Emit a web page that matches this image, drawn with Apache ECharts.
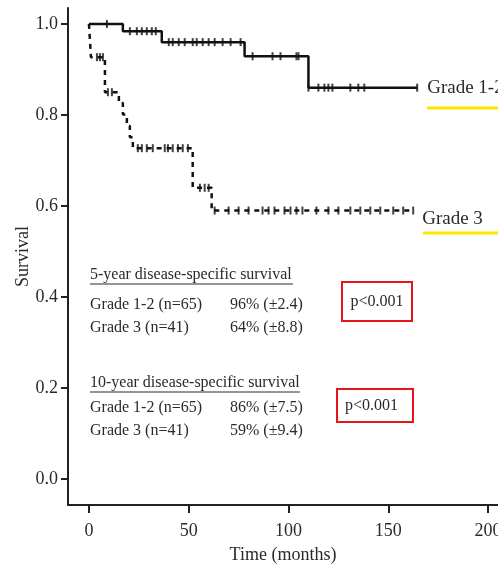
<!DOCTYPE html>
<html>
<head>
<meta charset="utf-8">
<script src="https://cdn.jsdelivr.net/npm/echarts@6/dist/echarts.min.js"></script>
<style>
  html, body { margin: 0; padding: 0; background: #fff; }
  #chart { width: 498px; height: 569px; }
</style>
</head>
<body>
<div id="chart"></div>
<script>
// Kaplan-Meier step points: [months, survival]
const grade12Steps = [[0, 1.0], [17, 0.984], [36.5, 0.96], [78, 0.929], [110, 0.86], [164.5, 0.86]];
const grade3Steps = [[0, 1.0], [1, 0.927], [8, 0.85], [15, 0.826], [17, 0.801], [19, 0.776],
                     [20.5, 0.751], [22, 0.727], [52, 0.64], [61.5, 0.59], [163, 0.59]];

// Censored observations: [months, survival]
const grade12Censored = [
  [9, 1.0],
  [20.5, 0.984], [24, 0.984], [26.5, 0.984], [29, 0.984], [31.5, 0.984], [33.5, 0.984],
  [40, 0.96], [42, 0.96], [45, 0.96], [48, 0.96], [52, 0.96], [54, 0.96], [57, 0.96],
  [60, 0.96], [63, 0.96], [67, 0.96], [71, 0.96], [76, 0.96],
  [82, 0.929], [92, 0.929], [96, 0.929], [104, 0.929], [105, 0.929],
  [110, 0.86], [115, 0.86], [118, 0.86], [120, 0.86], [122, 0.86], [131, 0.86], [135, 0.86],
  [138, 0.86], [164.5, 0.86]
];
const grade3Censored = [
  [4, 0.927], [5.5, 0.927], [7, 0.927],
  [9.5, 0.85], [11.5, 0.85],
  [24.5, 0.727], [26.5, 0.727], [29, 0.727], [32, 0.727], [38, 0.727], [39.6, 0.727],
  [42, 0.727], [44.6, 0.727], [47, 0.727], [49.6, 0.727],
  [55.6, 0.64], [58, 0.64], [60, 0.64],
  [63, 0.59], [70, 0.59], [75, 0.59], [80, 0.59], [87, 0.59], [90, 0.59], [93, 0.59],
  [98, 0.59], [101, 0.59], [104, 0.59], [107, 0.59], [114, 0.59], [120, 0.59], [125, 0.59],
  [131, 0.59], [136, 0.59], [141, 0.59], [146, 0.59], [152.5, 0.59], [157.5, 0.59], [162.5, 0.59]
];

const seriesNames = ['Grade 1-2', 'Grade 3'];
const xTicks = [0, 50, 100, 150, 200];
const yTicks = [0.0, 0.2, 0.4, 0.6, 0.8, 1.0];

// Summary table rows
const fiveYearHeader = '5-year disease-specific survival';
const tenYearHeader = '10-year disease-specific survival';
const fiveYearRows = [['Grade 1-2 (n=65)', '96% (\u00b12.4)'], ['Grade 3 (n=41)', '64% (\u00b18.8)']];
const tenYearRows = [['Grade 1-2 (n=65)', '86% (\u00b17.5)'], ['Grade 3 (n=41)', '59% (\u00b19.4)']];
const pValueText = 'p<0.001';

const SERIF = '"Liberation Serif", "DejaVu Serif", serif';
const INK = '#2a2a2a';

const chart = echarts.init(document.getElementById('chart'), null, { renderer: 'canvas' });

function txt(x, y, text, align) {
  return {
    type: 'text', x: x, y: y, silent: true,
    style: { text: text, font: '16px ' + SERIF, fill: INK, verticalAlign: 'middle', align: align || 'left' }
  };
}
function hline(x1, x2, y, color, w) {
  return { type: 'line', silent: true, shape: { x1: x1, y1: y, x2: x2, y2: y },
           style: { stroke: color, lineWidth: w } };
}

const graphics = [
  txt(90, 275, fiveYearHeader), hline(90, 293, 284, INK, 1),
  txt(90, 305, fiveYearRows[0][0]), txt(230, 305, fiveYearRows[0][1]),
  txt(90, 328, fiveYearRows[1][0]), txt(230, 328, fiveYearRows[1][1]),
  txt(90, 383, tenYearHeader), hline(90, 300, 392, INK, 1),
  txt(90, 408, tenYearRows[0][0]), txt(230, 408, tenYearRows[0][1]),
  txt(90, 431, tenYearRows[1][0]), txt(230, 431, tenYearRows[1][1]),
  { type: 'rect', silent: true, shape: { x: 342, y: 282, width: 70, height: 39 },
    style: { fill: 'none', stroke: '#e8141c', lineWidth: 2 } },
  txt(377, 302, pValueText, 'center'),
  { type: 'rect', silent: true, shape: { x: 337, y: 389, width: 76, height: 33 },
    style: { fill: 'none', stroke: '#e8141c', lineWidth: 2 } },
  txt(345, 406, pValueText),
  hline(427, 498, 108, '#ffe600', 3),
  hline(423, 498, 233, '#ffe600', 3)
];

const censorSymbol = { symbol: 'rect', symbolSize: [2, 8], itemStyle: { color: '#111' } };

chart.setOption({
  animation: false,
  backgroundColor: '#fff',
  grid: { left: 68, right: 0, top: 8, bottom: 64, containLabel: false, outerBoundsMode: 'none' },
  xAxis: {
    type: 'value', min: -10.5, max: 205,
    name: 'Time (months)', nameLocation: 'middle', nameGap: 41,
    nameTextStyle: { fontFamily: SERIF, fontSize: 18, color: INK },
    axisLine: { show: true, onZero: false, lineStyle: { color: '#222', width: 2 } },
    axisTick: { show: true, inside: false, length: 8, customValues: xTicks, lineStyle: { color: '#222', width: 2 } },
    axisLabel: { customValues: xTicks, margin: 17, fontFamily: SERIF, fontSize: 18, color: INK },
    splitLine: { show: false }
  },
  yAxis: {
    type: 'value', min: -0.057, max: 1.035,
    name: 'Survival', nameLocation: 'middle', nameGap: 36, nameMoveOverlap: false,
    nameTextStyle: { fontFamily: SERIF, fontSize: 18, color: INK },
    axisLine: { show: true, onZero: false, lineStyle: { color: '#222', width: 2 } },
    axisTick: { show: true, inside: false, length: 7, customValues: yTicks, lineStyle: { color: '#222', width: 2 } },
    axisLabel: { customValues: yTicks, margin: 10, fontFamily: SERIF, fontSize: 18, color: INK,
                 formatter: v => v.toFixed(1) },
    splitLine: { show: false }
  },
  series: [
    {
      name: seriesNames[0], type: 'line', step: 'end', data: grade12Steps,
      showSymbol: false, lineStyle: { color: '#111', width: 2.5, type: 'solid' },
      endLabel: { show: true, formatter: '{a}', distance: 10, fontFamily: SERIF, fontSize: 19, color: INK }
    },
    {
      name: seriesNames[1], type: 'line', step: 'end', data: grade3Steps,
      showSymbol: false, lineStyle: { color: '#111', width: 2.5, type: [5, 5] },
      endLabel: { show: true, formatter: '{a}', distance: 8, offset: [0, 8], fontFamily: SERIF, fontSize: 19, color: INK }
    },
    Object.assign({ name: seriesNames[0] + ' censored', type: 'scatter', data: grade12Censored }, censorSymbol),
    Object.assign({ name: seriesNames[1] + ' censored', type: 'scatter', data: grade3Censored }, censorSymbol)
  ],
  graphic: graphics
});
</script>
</body>
</html>
